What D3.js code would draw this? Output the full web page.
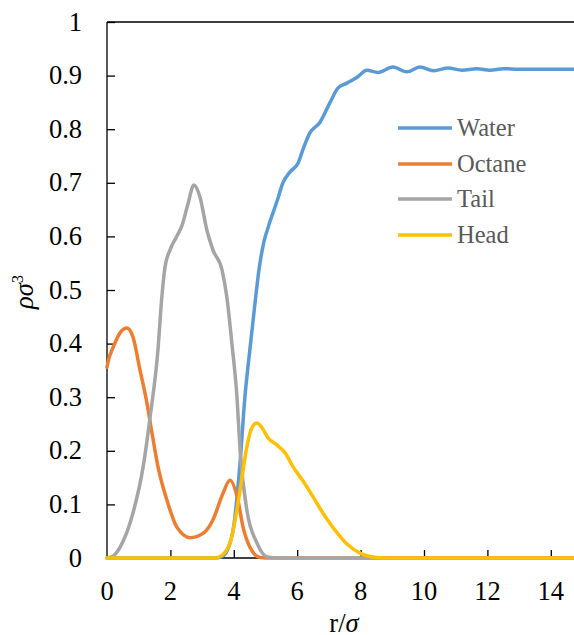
<!DOCTYPE html>
<html>
<head>
<meta charset="utf-8">
<script src="https://cdn.jsdelivr.net/npm/d3@7/dist/d3.min.js"></script>
<style>
  body { margin: 0; background: #fff; }
  svg { display: block; }
</style>
</head>
<body>
<svg id="chart" width="574" height="635"></svg>
<script>
// Density profiles: [r/sigma, rho*sigma^3]
const water = [
  [0, 0], [3.4, 0], [3.6, 0.002], [3.8, 0.015], [4.0, 0.06], [4.2, 0.18], [4.35, 0.30],
  [4.5, 0.385], [4.64, 0.46], [4.8, 0.54], [4.95, 0.59], [5.1, 0.62], [5.36, 0.665],
  [5.55, 0.70], [5.77, 0.72], [6.03, 0.737], [6.2, 0.765], [6.4, 0.793], [6.72, 0.813],
  [7.03, 0.849], [7.29, 0.877], [7.57, 0.886], [7.89, 0.897], [8.2, 0.910], [8.55, 0.906],
  [9.02, 0.916], [9.46, 0.907], [9.87, 0.916], [10.3, 0.909], [10.76, 0.914], [11.2, 0.910],
  [11.67, 0.913], [12.08, 0.910], [12.5, 0.913], [13.0, 0.912], [13.5, 0.912], [14.0, 0.912],
  [14.8, 0.912]
];
const octane = [
  [0, 0.356], [0.05, 0.37], [0.2, 0.394], [0.41, 0.42], [0.63, 0.429], [0.82, 0.412],
  [1.04, 0.351], [1.26, 0.289], [1.42, 0.233], [1.61, 0.17], [1.89, 0.108], [2.2, 0.058],
  [2.62, 0.038], [3.03, 0.046], [3.34, 0.071], [3.66, 0.121], [3.88, 0.145], [4.13, 0.108],
  [4.29, 0.058], [4.51, 0.02], [4.83, 0.001], [5.2, 0], [14.8, 0]
];
const tail = [
  [0, 0], [0.2, 0.004], [0.41, 0.02], [0.82, 0.084], [1.14, 0.17], [1.36, 0.263],
  [1.61, 0.39], [1.72, 0.48], [1.83, 0.543], [1.99, 0.575], [2.2, 0.60], [2.37, 0.621],
  [2.56, 0.662], [2.74, 0.696], [2.93, 0.674], [3.15, 0.612], [3.34, 0.575], [3.63, 0.537],
  [3.78, 0.487], [3.94, 0.40], [4.1, 0.30], [4.2, 0.20], [4.41, 0.09], [4.73, 0.028],
  [5.05, 0.002], [5.4, 0], [14.8, 0]
];
const head = [
  [0, 0], [3.4, 0], [3.6, 0.004], [3.88, 0.028], [4.1, 0.09], [4.26, 0.151], [4.41, 0.207],
  [4.57, 0.243], [4.73, 0.252], [4.89, 0.243], [5.08, 0.224], [5.36, 0.211], [5.62, 0.196],
  [5.87, 0.17], [6.18, 0.144], [6.5, 0.114], [6.81, 0.084], [7.03, 0.065], [7.26, 0.047],
  [7.57, 0.026], [7.98, 0.009], [8.5, 0.001], [9.0, 0], [14.8, 0]
];

const seriesNames = ['Water', 'Octane', 'Tail', 'Head'];
const seriesData = [water, octane, tail, head];
const colors = ['#5B9BD5', '#ED7D31', '#A5A5A5', '#FFC000'];
const xTicks = [0, 2, 4, 6, 8, 10, 12, 14];
const yTicks = [0, 0.1, 0.2, 0.3, 0.4, 0.5, 0.6, 0.7, 0.8, 0.9, 1];

const serif = 'Liberation Serif';
const svg = d3.select('#chart');
const plotLeft = 107, plotTop = 22, plotBottom = 558;

const x = d3.scaleLinear().domain([0, 15]).range([plotLeft, plotLeft + 15 * 31.7]);
const y = d3.scaleLinear().domain([0, 1]).range([plotBottom, plotTop]);

const clip = svg.append('defs').append('clipPath').attr('id', 'plot-clip');
clip.append('rect').attr('x', plotLeft - 2).attr('y', plotTop - 5)
  .attr('width', 574 - plotLeft + 2).attr('height', plotBottom - plotTop + 10);

// Axes (inward ticks, labels drawn separately)
const yAxis = svg.append('g')
  .attr('transform', `translate(${plotLeft},0)`)
  .call(d3.axisRight(y).tickValues(yTicks).tickSize(8).tickFormat(''));
yAxis.select('.domain').remove();
yAxis.selectAll('line').attr('stroke', '#000').attr('stroke-width', 1.3);

const xAxis = svg.append('g')
  .attr('transform', `translate(0,${plotBottom})`)
  .call(d3.axisTop(x).tickValues(xTicks.filter(d => d > 0)).tickSize(8).tickFormat(''));
xAxis.select('.domain').remove();
xAxis.selectAll('line').attr('stroke', '#000').attr('stroke-width', 1.3);

svg.append('line').attr('x1', plotLeft).attr('x2', plotLeft).attr('y1', plotTop).attr('y2', plotBottom)
  .attr('stroke', '#000').attr('stroke-width', 1.3);
svg.append('line').attr('x1', plotLeft).attr('x2', 574).attr('y1', plotBottom).attr('y2', plotBottom)
  .attr('stroke', '#000').attr('stroke-width', 1.3);
svg.append('line').attr('x1', plotLeft).attr('x2', 574).attr('y1', plotTop).attr('y2', plotTop)
  .attr('stroke', '#000').attr('stroke-width', 1.3);

// Tick labels
svg.append('g').selectAll('text').data(yTicks).join('text')
  .attr('x', 82).attr('y', d => y(d) + 8.5)
  .attr('text-anchor', 'end')
  .attr('font-family', serif)
  .attr('font-size', 26.5)
  .attr('fill', '#000')
  .text(d => d3.format('~g')(d));

svg.append('g').selectAll('text').data(xTicks).join('text')
  .attr('x', d => x(d)).attr('y', 600)
  .attr('text-anchor', 'middle')
  .attr('font-family', serif)
  .attr('font-size', 26.5)
  .attr('fill', '#000')
  .text(d => d);

// Axis titles
const xTitle = svg.append('text').attr('x', 344).attr('y', 632)
  .attr('text-anchor', 'middle').attr('font-family', serif).attr('font-size', 26.5);
xTitle.append('tspan').text('r/');
xTitle.append('tspan').attr('font-style', 'italic').text('σ');

const yTitle = svg.append('text')
  .attr('transform', 'translate(33,292) rotate(-90)')
  .attr('text-anchor', 'middle').attr('font-family', serif).attr('font-size', 26.5);
yTitle.append('tspan').attr('font-style', 'italic').text('ρσ');
yTitle.append('tspan').attr('dy', -10).attr('font-size', 16).text('3');

// Curves
const line = d3.line()
  .x(d => x(d[0]))
  .y(d => y(d[1]))
  .curve(d3.curveMonotoneX);

svg.append('g').attr('clip-path', 'url(#plot-clip)')
  .selectAll('path').data(seriesData).join('path')
  .attr('d', line)
  .attr('fill', 'none')
  .attr('stroke', (d, i) => colors[i])
  .attr('stroke-width', 3.5)
  .attr('stroke-linejoin', 'round')
  .attr('stroke-linecap', 'round');

// Legend
const legendY = [128, 164, 199, 235];
const legend = svg.append('g').selectAll('g').data(seriesNames).join('g')
  .attr('transform', (d, i) => `translate(398,${legendY[i]})`);
legend.append('line')
  .attr('x1', 0).attr('x2', 54)
  .attr('stroke', (d, i) => colors[i])
  .attr('stroke-width', 3.5);
legend.append('text')
  .attr('x', 59).attr('y', 8)
  .attr('font-family', serif)
  .attr('font-size', 24.5)
  .attr('fill', '#595959')
  .text(d => d);
</script>
</body>
</html>
